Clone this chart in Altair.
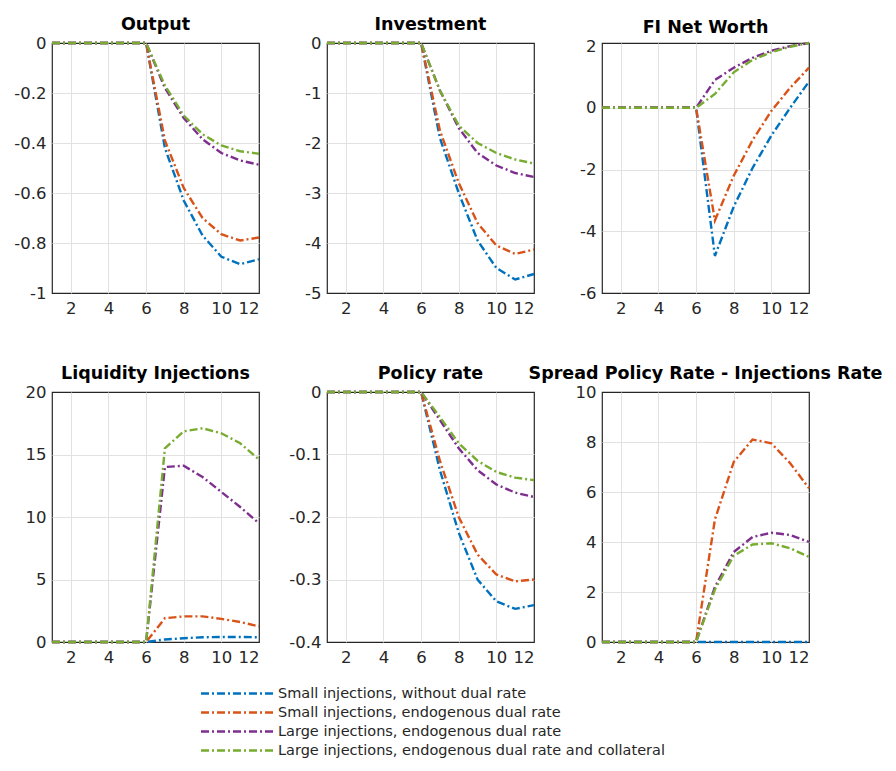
import altair as alt
import pandas as pd

periods = [1, 2, 3, 4, 5, 6, 7, 8, 9, 10, 11, 12]

series_names = [
    "Small injections, without dual rate",
    "Small injections, endogenous dual rate",
    "Large injections, endogenous dual rate",
    "Large injections, endogenous dual rate and collateral",
]
series_colors = ["#0072BD", "#D95319", "#7E2F8E", "#77AC30"]

panel_titles = [
    "Output",
    "Investment",
    "FI Net Worth",
    "Liquidity Injections",
    "Policy rate",
    "Spread Policy Rate - Injections Rate",
]
# y-axis limits of each panel
panel_ymin = [-1, -5, -6, 0, -0.4, 0]
panel_ymax = [0, 0, 2, 20, 0, 10]

# Output
output_s1 = [0, 0, 0, 0, 0, 0, -0.42, -0.63, -0.77, -0.855, -0.885, -0.865]
output_s2 = [0, 0, 0, 0, 0, 0, -0.39, -0.58, -0.70, -0.765, -0.79, -0.778]
output_s3 = [0, 0, 0, 0, 0, 0, -0.18, -0.30, -0.385, -0.44, -0.47, -0.487]
output_s4 = [0, 0, 0, 0, 0, 0, -0.17, -0.29, -0.365, -0.41, -0.433, -0.443]

# Investment
invest_s1 = [0, 0, 0, 0, 0, 0, -1.9, -3.0, -3.95, -4.5, -4.73, -4.62]
invest_s2 = [0, 0, 0, 0, 0, 0, -1.75, -2.8, -3.6, -4.05, -4.22, -4.13]
invest_s3 = [0, 0, 0, 0, 0, 0, -0.95, -1.7, -2.2, -2.45, -2.6, -2.68]
invest_s4 = [0, 0, 0, 0, 0, 0, -0.95, -1.65, -2.0, -2.2, -2.33, -2.41]

# FI Net Worth
networth_s1 = [0, 0, 0, 0, 0, 0, -4.8, -3.2, -1.95, -0.9, 0.0, 0.85]
networth_s2 = [0, 0, 0, 0, 0, 0, -3.65, -2.2, -1.05, -0.1, 0.65, 1.3]
networth_s3 = [0, 0, 0, 0, 0, 0, 0.9, 1.3, 1.62, 1.85, 2.0, 2.1]
networth_s4 = [0, 0, 0, 0, 0, 0, 0.45, 1.15, 1.55, 1.8, 1.98, 2.1]

# Liquidity Injections
liq_s1 = [0, 0, 0, 0, 0, 0, 0.2, 0.3, 0.38, 0.4, 0.4, 0.38]
liq_s2 = [0, 0, 0, 0, 0, 0, 1.9, 2.05, 2.05, 1.85, 1.6, 1.25]
liq_s3 = [0, 0, 0, 0, 0, 0, 14.0, 14.1, 13.2, 12.0, 10.8, 9.5]
liq_s4 = [0, 0, 0, 0, 0, 0, 15.5, 16.85, 17.1, 16.7, 15.9, 14.6]

# Policy rate
policy_s1 = [0, 0, 0, 0, 0, 0, -0.125, -0.225, -0.30, -0.335, -0.347, -0.341]
policy_s2 = [0, 0, 0, 0, 0, 0, -0.11, -0.20, -0.26, -0.292, -0.303, -0.30]
policy_s3 = [0, 0, 0, 0, 0, 0, -0.045, -0.09, -0.125, -0.148, -0.161, -0.168]
policy_s4 = [0, 0, 0, 0, 0, 0, -0.04, -0.082, -0.11, -0.128, -0.137, -0.141]

# Spread Policy Rate - Injections Rate
spread_s1 = [0, 0, 0, 0, 0, 0, 0, 0, 0, 0, 0, 0]
spread_s2 = [0, 0, 0, 0, 0, 0, 4.9, 7.2, 8.1, 7.95, 7.15, 6.15]
spread_s3 = [0, 0, 0, 0, 0, 0, 2.2, 3.6, 4.2, 4.37, 4.28, 4.0]
spread_s4 = [0, 0, 0, 0, 0, 0, 2.1, 3.45, 3.9, 3.95, 3.75, 3.4]

panel_series = [
    [output_s1, output_s2, output_s3, output_s4],
    [invest_s1, invest_s2, invest_s3, invest_s4],
    [networth_s1, networth_s2, networth_s3, networth_s4],
    [liq_s1, liq_s2, liq_s3, liq_s4],
    [policy_s1, policy_s2, policy_s3, policy_s4],
    [spread_s1, spread_s2, spread_s3, spread_s4],
]

x_ticks = [2, 4, 6, 8, 10, 12]

rows = []
for title, series_values, lo, hi in zip(panel_titles, panel_series, panel_ymin, panel_ymax):
    for name, vals in zip(series_names, series_values):
        for p, v in zip(periods, vals):
            rows.append({"panel": title, "period": p, "value": v, "series": name,
                         "kind": "line", "lo": None, "hi": None})
    rows.append({"panel": title, "period": 1, "value": None, "series": None,
                 "kind": "limits", "lo": lo, "hi": hi})
df = pd.DataFrame(rows)

color_scale = alt.Scale(domain=series_names, range=series_colors)
DASH = [8, 3, 2, 3]
GRID = "#e1e1e1"

x_enc = alt.X(
    "period:Q", scale=alt.Scale(domain=[1, 12], nice=False),
    axis=alt.Axis(values=x_ticks, title=None,
                  gridColor=alt.condition("datum.value === 12",
                                          alt.value("transparent"), alt.value(GRID))),
)

lines = alt.Chart().mark_line(strokeDash=DASH, strokeWidth=2.4).encode(
    x=x_enc,
    y=alt.Y("value:Q", scale=alt.Scale(nice=False, zero=False),
            axis=alt.Axis(title=None, tickCount=5, labelExpr="'' + datum.value",
                          gridColor=alt.condition("datum.index === 0 || datum.index === 1",
                                                  alt.value("transparent"), alt.value(GRID)))),
    color=alt.Color("series:N", scale=color_scale, legend=None, sort=series_names),
    order=alt.Order("period:Q"),
).transform_filter(alt.datum.kind == "line")

limits = alt.Chart().mark_rule(opacity=0).encode(
    x=x_enc,
    y=alt.Y("lo:Q"),
    y2="hi:Q",
).transform_filter(alt.datum.kind == "limits")

panels = alt.layer(lines, limits, data=df).properties(width=207, height=250).facet(
    facet=alt.Facet("panel:N", sort=panel_titles,
                    header=alt.Header(title=None, labelFontSize=17.5, labelFontWeight="bold",
                                      labelFont="DejaVu Sans", labelColor="#000000",
                                      labelPadding=2, labelLimit=500)),
    columns=3,
    spacing={"row": 99, "column": 68},
    bounds="flush",
).resolve_scale(y="independent").resolve_axis(x="independent", y="independent")

legend_df = pd.DataFrame({"series": series_names})
legend_y = alt.Y("series:N", sort=series_names,
                 scale=alt.Scale(type="point", padding=0.5), axis=None)
legend_lines = alt.Chart(legend_df).mark_rule(strokeDash=DASH, strokeWidth=2.4).encode(
    x=alt.value(149), x2=alt.value(221), y=legend_y,
    color=alt.Color("series:N", scale=color_scale, legend=None, sort=series_names),
)
legend_text = alt.Chart(legend_df).mark_text(
    align="left", baseline="middle", font="DejaVu Sans", fontSize=14.5, color="#262626"
).encode(x=alt.value(226), y=legend_y, text="series:N")
legend = alt.layer(legend_lines, legend_text).properties(
    width=207, height=76, view=alt.ViewBackground(stroke=None)
)

chart = (
    alt.vconcat(panels, legend, spacing=17)
    .properties(padding={"left": 13, "top": 14, "right": 5, "bottom": 5},
                background="white")
    .configure_view(stroke="#262626", strokeWidth=1.2)
    .configure_axis(
        labelFont="DejaVu Sans", labelFontSize=16.5, labelColor="#262626",
        grid=True, gridWidth=1,
        domain=False, ticks=False, labelPadding=6,
    )
    .configure_axisX(labelPadding=7)
)

chart.save("out.html", embed_options={"renderer": "svg", "actions": False})
